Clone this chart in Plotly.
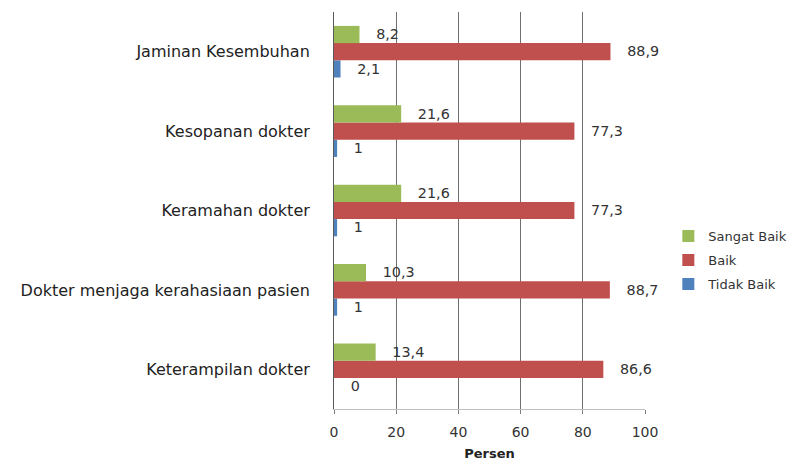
import plotly.graph_objects as go

# Survey categories, listed bottom to top as they appear on the axis
categories = [
    "Keterampilan dokter",
    "Dokter menjaga kerahasiaan pasien",
    "Keramahan dokter",
    "Kesopanan dokter",
    "Jaminan Kesembuhan",
]
sangat_baik = [13.4, 10.3, 21.6, 21.6, 8.2]
baik = [86.6, 88.7, 77.3, 77.3, 88.9]
tidak_baik = [0, 1, 1, 1, 2.1]

x_ticks = [0, 20, 40, 60, 80, 100]

FONT = "DejaVu Sans"


def fmt(v):
    s = f"{v:g}".replace(".", ",")
    return "   " + s


# (name, values, colour, legend rank)
series = [
    ("Tidak Baik", tidak_baik, "#4F81BD", 3),
    ("Baik", baik, "#C0504D", 2),
    ("Sangat Baik", sangat_baik, "#9BBB59", 1),
]

fig = go.Figure()
for name, vals, color, rank in series:
    fig.add_trace(go.Bar(
        y=categories,
        x=vals,
        name=name,
        orientation="h",
        marker=dict(color=color, line=dict(width=0)),
        text=[fmt(v) for v in vals],
        textposition="outside",
        textfont=dict(family=FONT, size=15, color="#333333"),
        cliponaxis=False,
        legendgroup=name,
        legendrank=rank,
    ))

fig.update_layout(
    width=811,
    height=464,
    margin=dict(l=334, r=166, t=12, b=55),
    paper_bgcolor="white",
    plot_bgcolor="white",
    barmode="group",
    bargap=0.35,
    bargroupgap=0,
    font=dict(family=FONT, color="#333333"),
    showlegend=True,
    legend=dict(
        x=1.075, xanchor="left",
        y=0.375, yanchor="middle",
        traceorder="grouped",
        tracegroupgap=4,
        font=dict(family=FONT, size=13, color="#333333"),
        bgcolor="rgba(0,0,0,0)",
    ),
    xaxis=dict(
        range=[0, 100],
        automargin=False,
        tickvals=x_ticks,
        ticktext=[str(t) for t in x_ticks],
        showgrid=True,
        gridcolor="#6F6F6F",
        gridwidth=1,
        zeroline=False,
        showline=True,
        linecolor="#BFBFBF",
        ticks="outside",
        ticklen=4,
        tickcolor="#7F7F7F",
        ticklabelstandoff=6,
        tickfont=dict(family=FONT, size=14, color="#333333"),
        title=dict(text="<b>Persen</b>", font=dict(family=FONT, size=13, color="#222222"), standoff=10),
    ),
    yaxis=dict(
        automargin=False,
        categoryorder="array",
        categoryarray=categories,
        showgrid=False,
        zeroline=False,
        showline=True,
        linecolor="#595959",
        linewidth=1,
        ticks="",
        ticklabelstandoff=20,
        tickfont=dict(family=FONT, size=16, color="#222222"),
    ),
)

fig.write_html("out.html")
